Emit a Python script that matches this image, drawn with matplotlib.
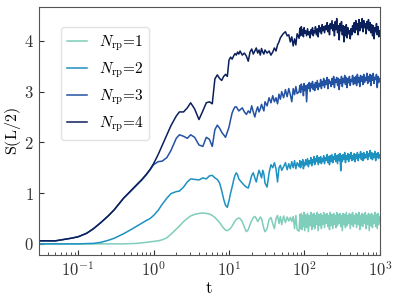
import matplotlib
matplotlib.use("Agg")
import matplotlib.pyplot as plt
import numpy as np

plt.rcParams['mathtext.fontset'] = 'cm'
plt.rcParams['font.family'] = 'serif'
plt.rcParams['font.serif'] = ['cmr10', 'DejaVu Serif']
plt.rcParams['axes.formatter.use_mathtext'] = True
plt.rcParams['axes.unicode_minus'] = False

# ---- time grid (log axis) ----
t_a = [0.03, 0.04, 0.05, 0.06, 0.08, 0.1, 0.13, 0.16, 0.2, 0.25,
       0.3, 0.4, 0.5, 0.6, 0.7, 0.8, 0.9, 1.0, 1.15, 1.3,
       1.5, 1.7, 2.0, 2.2, 2.5, 2.8, 3.1, 3.5, 4.0, 4.5,
       5.0, 5.5, 6.0, 6.5, 7.0, 7.5, 8.0, 8.5, 9.0, 9.5]
t_b = [10, 10.5, 11, 11.5, 12, 12.5, 13, 13.5, 14, 15,
       16, 17, 18, 19, 20, 21, 22, 23, 24, 25,
       26, 27, 28, 29, 30, 32, 34, 36, 38, 40,
       42, 44, 46, 48, 50, 53, 56, 59, 62, 65,
       68, 71, 74, 77, 80]
t_c = [85, 87, 89, 91, 93, 95, 97, 99, 101, 104,
       107, 110, 113, 116, 119, 122, 125, 128, 131, 134,
       137, 140, 144, 148, 152, 156, 160, 164, 168, 172,
       176, 180, 185, 190, 195, 200, 205, 210, 215, 220,
       226, 232, 238, 244, 250, 256, 262, 268, 275, 282,
       289, 296, 303, 310, 318, 326, 334, 342, 350, 359,
       368, 377, 386, 395, 405, 415, 425, 435, 446, 457,
       468, 480, 492, 504, 516, 529, 542, 555, 569, 583,
       597, 612, 627, 642, 658, 674, 690, 707, 724, 742,
       760, 779, 798, 818, 838, 859, 880, 902, 924, 947,
       970, 1000]

# ---- N_rp = 1 ----
s1_a = [0.0, 0.0, 0.0, 0.0, 0.0, 0.0, 0.0, 0.0, 0.0, 0.0,
        0.0, 0.0, 0.005, 0.01, 0.02, 0.03, 0.04, 0.05, 0.06, 0.08,
        0.12, 0.19, 0.29, 0.35, 0.44, 0.50, 0.55, 0.58, 0.60, 0.61,
        0.60, 0.59, 0.56, 0.52, 0.47, 0.42, 0.36, 0.31, 0.27, 0.26]
s1_b = [0.28, 0.31, 0.35, 0.40, 0.45, 0.48, 0.50, 0.51, 0.50, 0.44,
        0.33, 0.24, 0.28, 0.38, 0.46, 0.52, 0.54, 0.50, 0.44, 0.48,
        0.53, 0.50, 0.40, 0.30, 0.24, 0.30, 0.48, 0.52, 0.40, 0.30,
        0.50, 0.56, 0.40, 0.54, 0.38, 0.55, 0.42, 0.53, 0.45, 0.52,
        0.44, 0.54, 0.30, 0.56, 0.28]
s1_c = [0.25, 0.58, 0.30, 0.60, 0.28, 0.56, 0.34, 0.62, 0.26, 0.58,
        0.32, 0.60, 0.24, 0.56, 0.36, 0.62, 0.28, 0.58, 0.34, 0.60,
        0.30, 0.56, 0.38, 0.62, 0.26, 0.58, 0.36, 0.60, 0.30, 0.56,
        0.38, 0.62, 0.32, 0.58, 0.40, 0.60, 0.34, 0.56, 0.28, 0.62,
        0.36, 0.58, 0.30, 0.60, 0.38, 0.56, 0.32, 0.62, 0.36, 0.58,
        0.40, 0.60, 0.34, 0.56, 0.26, 0.60, 0.38, 0.58, 0.32, 0.62,
        0.36, 0.56, 0.40, 0.60, 0.30, 0.58, 0.38, 0.62, 0.34, 0.56,
        0.40, 0.60, 0.32, 0.58, 0.38, 0.62, 0.28, 0.56, 0.36, 0.60,
        0.34, 0.58, 0.40, 0.62, 0.30, 0.56, 0.38, 0.60, 0.26, 0.58,
        0.36, 0.60, 0.32, 0.56, 0.40, 0.62, 0.34, 0.58, 0.30, 0.60,
        0.38, 0.54]

# ---- N_rp = 2 ----
s2_a = [0.0, 0.0, 0.0, 0.0, 0.0, 0.0, 0.005, 0.01, 0.03, 0.07,
        0.11, 0.20, 0.28, 0.35, 0.41, 0.46, 0.50, 0.56, 0.66, 0.78,
        0.90, 0.99, 1.03, 1.04, 1.12, 1.22, 1.28, 1.27, 1.26, 1.30,
        1.28, 1.34, 1.35, 1.30, 1.27, 1.20, 1.05, 0.88, 0.76, 0.72]
s2_b = [0.85, 1.00, 1.12, 1.25, 1.35, 1.40, 1.36, 1.28, 1.25, 1.20,
        1.15, 1.12, 1.10, 1.22, 1.35, 1.40, 1.30, 1.22, 1.35, 1.45,
        1.38, 1.30, 1.45, 1.38, 1.20, 1.12, 1.40, 1.56, 1.50, 1.60,
        1.48, 1.22, 1.50, 1.55, 1.45, 1.52, 1.60, 1.46, 1.58, 1.48,
        1.62, 1.50, 1.64, 1.48, 1.60]
s2_c = [1.52, 1.64, 1.50, 1.62, 1.56, 1.66, 1.48, 1.60, 1.54, 1.66,
        1.56, 1.68, 1.52, 1.64, 1.58, 1.70, 1.54, 1.66, 1.60, 1.72,
        1.56, 1.68, 1.62, 1.74, 1.56, 1.70, 1.60, 1.72, 1.58, 1.68,
        1.62, 1.74, 1.58, 1.70, 1.64, 1.76, 1.60, 1.72, 1.56, 1.74,
        1.62, 1.76, 1.60, 1.72, 1.66, 1.78, 1.62, 1.74, 1.58, 1.76,
        1.64, 1.78, 1.44, 1.74, 1.62, 1.76, 1.66, 1.80, 1.60, 1.74,
        1.66, 1.78, 1.62, 1.76, 1.68, 1.80, 1.64, 1.74, 1.66, 1.78,
        1.62, 1.76, 1.68, 1.80, 1.64, 1.76, 1.70, 1.82, 1.66, 1.78,
        1.64, 1.80, 1.68, 1.76, 1.70, 1.82, 1.66, 1.78, 1.72, 1.84,
        1.68, 1.80, 1.66, 1.78, 1.70, 1.82, 1.64, 1.78, 1.70, 1.80,
        1.68, 1.76]

# ---- N_rp = 3 ----
s3_a = [0.06, 0.06, 0.06, 0.08, 0.11, 0.14, 0.21, 0.30, 0.42, 0.55,
        0.67, 0.90, 1.04, 1.16, 1.26, 1.36, 1.46, 1.56, 1.62, 1.63,
        1.70, 1.84, 2.08, 2.15, 2.12, 2.08, 2.15, 2.10, 1.95, 1.92,
        2.10, 2.06, 1.92, 2.25, 2.34, 2.28, 2.20, 2.15, 2.10, 2.20]
s3_b = [2.30, 2.45, 2.58, 2.65, 2.70, 2.70, 2.66, 2.62, 2.64, 2.68,
        2.60, 2.55, 2.62, 2.58, 2.72, 2.60, 2.50, 2.62, 2.70, 2.60,
        2.66, 2.75, 2.68, 2.62, 2.80, 2.72, 2.88, 2.78, 2.92, 2.80,
        2.88, 2.76, 2.95, 2.85, 3.00, 2.88, 3.04, 2.90, 3.06, 2.94,
        2.80, 3.06, 2.94, 3.10, 2.96]
s3_c = [3.00, 3.12, 2.98, 3.15, 3.04, 3.10, 2.92, 3.16, 3.02, 3.12,
        2.80, 3.14, 3.06, 3.18, 3.00, 3.16, 3.08, 3.20, 3.04, 3.14,
        3.02, 3.18, 3.08, 3.22, 3.04, 3.16, 3.10, 3.24, 3.06, 3.20,
        3.12, 3.26, 3.08, 3.22, 3.14, 3.28, 3.06, 3.24, 3.16, 3.20,
        3.10, 3.26, 3.14, 3.30, 3.08, 3.24, 3.18, 3.28, 3.12, 3.26,
        3.04, 3.24, 3.16, 3.30, 3.10, 3.26, 3.18, 3.32, 3.14, 3.28,
        3.08, 3.26, 3.18, 3.30, 3.12, 3.24, 3.20, 3.32, 3.14, 3.28,
        3.16, 3.30, 3.12, 3.34, 3.18, 3.28, 3.10, 3.32, 3.20, 3.30,
        3.14, 3.34, 3.18, 3.28, 3.22, 3.36, 3.16, 3.30, 3.20, 3.34,
        3.12, 3.32, 3.22, 3.36, 3.16, 3.28, 3.24, 3.34, 3.08, 3.30,
        3.18, 3.26]

# ---- N_rp = 4 ----
s4_a = [0.06, 0.06, 0.06, 0.08, 0.11, 0.14, 0.21, 0.30, 0.42, 0.55,
        0.67, 0.90, 1.05, 1.17, 1.27, 1.37, 1.47, 1.58, 1.76, 1.94,
        2.15, 2.33, 2.52, 2.60, 2.60, 2.68, 2.78, 2.66, 2.45, 2.62,
        2.78, 2.80, 2.76, 3.25, 3.33, 3.26, 3.22, 3.30, 3.34, 3.30]
s4_b = [3.62, 3.68, 3.64, 3.70, 3.75, 3.72, 3.78, 3.74, 3.80, 3.72,
        3.76, 3.70, 3.60, 3.78, 3.84, 3.74, 3.80, 3.86, 3.76, 3.82,
        3.72, 3.85, 3.78, 3.74, 3.82, 3.76, 3.80, 3.72, 3.78, 3.86,
        3.80, 3.92, 3.98, 4.06, 4.10, 4.15, 4.18, 4.10, 4.12, 3.98,
        4.08, 3.90, 4.04, 3.92, 4.14]
s4_c = [4.05, 4.25, 4.10, 4.28, 4.12, 4.22, 4.08, 4.26, 4.15, 4.20,
        4.10, 4.24, 4.12, 4.18, 4.06, 4.22, 4.14, 4.26, 4.10, 4.20,
        4.16, 4.28, 4.12, 4.24, 4.08, 4.30, 4.18, 4.26, 4.14, 4.32,
        4.20, 4.28, 4.16, 4.30, 4.22, 4.36, 4.18, 4.30, 4.12, 4.34,
        4.24, 4.40, 4.20, 4.32, 4.10, 4.38, 4.22, 4.44, 4.16, 4.30,
        4.02, 4.34, 4.20, 4.38, 4.12, 4.30, 3.98, 4.28, 4.10, 4.32,
        4.06, 4.26, 4.14, 4.20, 4.04, 4.24, 4.12, 4.30, 4.18, 4.36,
        4.16, 4.40, 4.22, 4.34, 4.12, 4.42, 4.20, 4.36, 4.26, 4.44,
        4.18, 4.40, 4.26, 4.34, 4.14, 4.38, 4.24, 4.42, 4.20, 4.36,
        4.16, 4.32, 4.10, 4.30, 4.04, 4.26, 4.18, 4.34, 4.12, 4.28,
        4.08, 4.20]

labels = [r'$N_\mathrm{rp}$=1', r'$N_\mathrm{rp}$=2', r'$N_\mathrm{rp}$=3', r'$N_\mathrm{rp}$=4']
colors = ['#7fcdbb', '#1d91c0', '#2352a3', '#0b1f5a']

t = t_a + t_b + t_c
series = [s1_a + s1_b + s1_c, s2_a + s2_b + s2_c,
          s3_a + s3_b + s3_c, s4_a + s4_b + s4_c]

fig = plt.figure(figsize=(3.99, 2.99), dpi=100)
ax = fig.add_axes([0.097, 0.147, 0.855, 0.83])
for s, c, lab in zip(series, colors, labels):
    ax.plot(t, s, color=c, lw=1.1, label=lab)

ax.set_xscale('log')
ax.set_xlim(0.03, 1000)
ax.set_ylim(-0.22, 4.67)
ax.set_yticks([0, 1, 2, 3, 4])
ax.set_xlabel(r'$\mathrm{t}$', fontsize=12, labelpad=1)
ax.set_ylabel(r'$\mathrm{S(L/2)}$', fontsize=11.5, labelpad=1)
ax.tick_params(which='both', direction='in', labelsize=12, colors='#333333')
ax.tick_params(which='major', length=3.5)
ax.tick_params(which='minor', length=2)
for sp in ax.spines.values():
    sp.set_color('#555555')
ax.legend(loc='upper left', bbox_to_anchor=(0.064, 0.919), borderaxespad=0,
          fontsize=11, handlelength=1.3, handletextpad=0.8, labelspacing=0.5,
          framealpha=0.8, edgecolor='#dddddd')
fig.savefig('out.png', dpi=100)
